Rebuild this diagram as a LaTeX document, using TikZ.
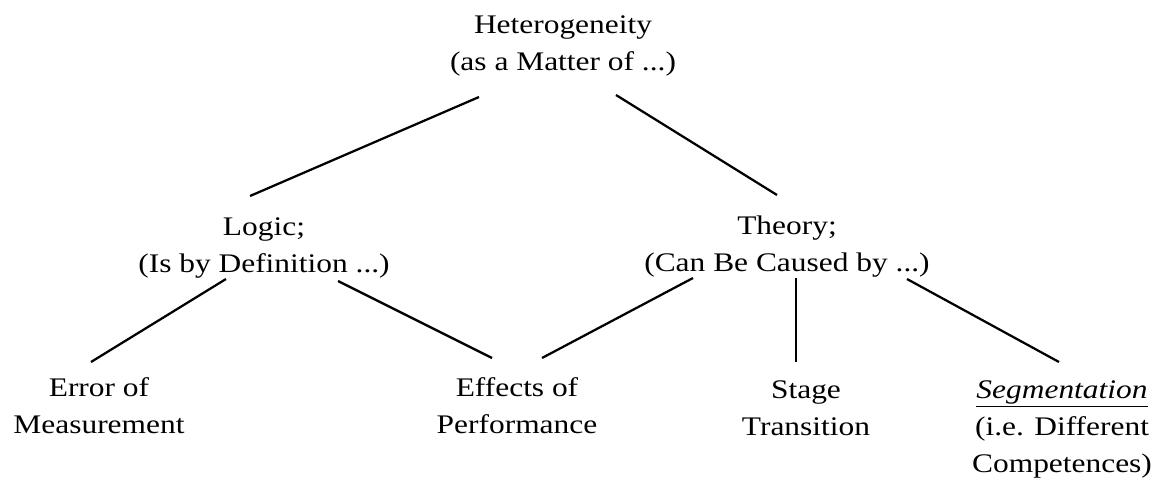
\documentclass[tikz,border=0pt]{standalone}
\usepackage{fontspec}
\setmainfont[FakeStretch=1.17]{Liberation Serif}
\usepackage{tikz}
\usetikzlibrary{calc}

\begin{document}
\begin{tikzpicture}[x=0.025cm,y=-0.025cm,
    lbl/.style={anchor=base,align=center,inner sep=0pt,
                font=\fontsize{19.1}{26.2}\selectfont},
    edge/.style={line width=1.6pt}]
  \useasboundingbox (0,0) rectangle (1152,481);
  % top and middle level (base = last line)
  \node[lbl] (het)    at (563,70)  {Heterogeneity\\(as a Matter of ...)};
  \node[lbl] (logic)  at (264,272) {Logic;\\(Is by Definition ...)};
  \node[lbl] (theory) at (787,271) {Theory;\\(Can Be Caused by ...)};
  % bottom level
  \node[lbl] (error)   at (99,433)   {Error of\\Measurement};
  \node[lbl] (effects) at (517,433)  {Effects of\\Performance};
  \node[lbl] (stage)   at (806,435)  {Stage\\Transition};
  \node[lbl] (seg)     at (1062,472) {\underline{\textit{Segmentation}}\\(i.e. Different\\Competences)};
  % connectors
  \draw[edge] ($(het.base)+(-84,27)$)   -- ($(logic.base)+(-14,-76)$);
  \draw[edge] ($(het.base)+(53,25)$)    -- ($(theory.base)+(-10,-76)$);
  \draw[edge] ($(logic.base)+(-38,7)$)  -- ($(error.base)+(-8,-71)$);
  \draw[edge] ($(logic.base)+(74,9)$)   -- ($(effects.base)+(-25,-75)$);
  \draw[edge] ($(theory.base)+(-94,7)$) -- ($(effects.base)+(25,-75)$);
  \draw[edge] ($(theory.base)+(9,7)$)   -- ($(stage.base)+(-10,-73)$);
  \draw[edge] ($(theory.base)+(120,8)$) -- ($(seg.base)+(-3,-110)$);
\end{tikzpicture}
\end{document}
